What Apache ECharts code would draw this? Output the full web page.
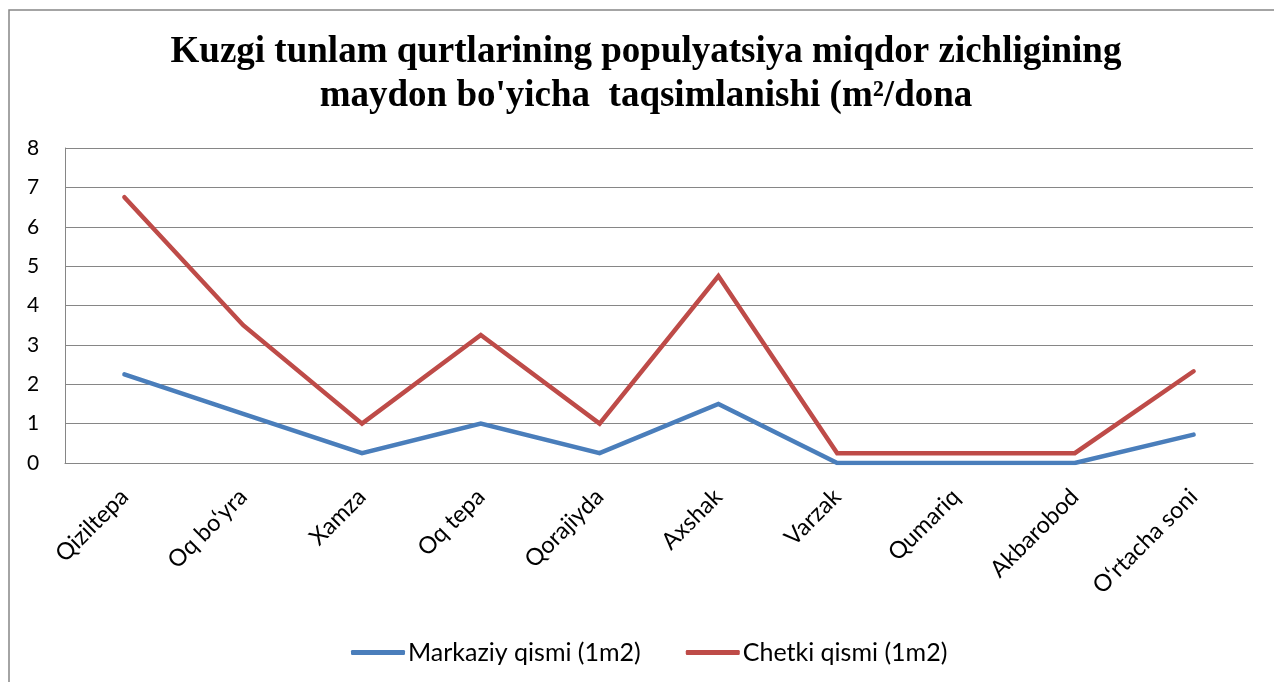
<!DOCTYPE html>
<html>
<head>
<meta charset="utf-8">
<script src="https://cdn.jsdelivr.net/npm/echarts@6/dist/echarts.min.js"></script>
<style>
html,body{margin:0;padding:0;background:#fff;}
#main{width:1274px;height:682px;}
</style>
</head>
<body>
<div id="main"></div>
<script>
const categories = ['Qiziltepa', 'Oq bo\u2018yra', 'Xamza', 'Oq tepa', 'Qorajiyda', 'Axshak', 'Varzak', 'Qumariq', 'Akbarobod', 'O\u2018rtacha soni'];
const markaziy = [2.25, 1.25, 0.25, 1, 0.25, 1.5, 0, 0, 0, 0.72];
const chetki = [6.75, 3.5, 1, 3.25, 1, 4.75, 0.25, 0.25, 0.25, 2.33];
const seriesNames = ['Markaziy qismi (1m2)', 'Chetki qismi (1m2)'];
const titleLines = ['Kuzgi tunlam qurtlarining populyatsiya miqdor zichligining', 'maydon bo\'yicha  taqsimlanishi (m\u00B2/dona'];

const chart = echarts.init(document.getElementById('main'));
const labelFont = 'Lato, "Open Sans", sans-serif';
chart.setOption({
  backgroundColor: '#fff',
  animation: false,
  graphic: [{
    type: 'rect',
    shape: {x: 9, y: 10, width: 1300, height: 700},
    style: {fill: 'none', stroke: '#868686', lineWidth: 1.5},
    silent: true,
    z: -1
  }, {
    type: 'text',
    x: 646,
    y: 30,
    silent: true,
    style: {
      text: titleLines.join('\n'),
      align: 'center',
      verticalAlign: 'top',
      fontFamily: '"Liberation Serif", "Times New Roman", serif',
      fontWeight: 'bold',
      fontSize: 37,
      lineHeight: 44,
      fill: '#000'
    }
  }],
  legend: {
    top: 635,
    left: 346,
    itemWidth: 54,
    itemHeight: 5,
    itemGap: 45,
    icon: 'roundRect',
    textStyle: {fontFamily: labelFont, fontSize: 25, color: '#000', padding: [0, 0, 0, -2]},
    data: seriesNames
  },
  grid: {left: 65, right: 21, top: 148, bottom: 219, containLabel: false},
  xAxis: {
    type: 'category',
    data: categories,
    boundaryGap: true,
    axisLine: {show: true, lineStyle: {color: '#868686', width: 1}},
    axisTick: {show: false},
    axisLabel: {rotate: 45, margin: 30, fontFamily: labelFont, fontSize: 23.5, color: '#000', interval: 0}
  },
  yAxis: {
    type: 'value',
    min: 0,
    max: 8,
    interval: 1,
    axisLine: {show: true, lineStyle: {color: '#868686', width: 1}},
    axisTick: {show: false},
    axisLabel: {margin: 32, fontFamily: labelFont, fontSize: 21, color: '#000', align: 'center'},
    splitLine: {show: true, lineStyle: {color: '#868686', width: 1}}
  },
  series: [
    {
      name: seriesNames[0],
      type: 'line',
      data: markaziy,
      symbol: 'none',
      lineStyle: {color: '#4A7EBB', width: 4.5, cap: 'round', join: 'miter'},
      itemStyle: {color: '#4A7EBB'}
    },
    {
      name: seriesNames[1],
      type: 'line',
      data: chetki,
      symbol: 'none',
      lineStyle: {color: '#BE4B48', width: 4.5, cap: 'round', join: 'miter'},
      itemStyle: {color: '#BE4B48'}
    }
  ]
});
</script>
</body>
</html>
